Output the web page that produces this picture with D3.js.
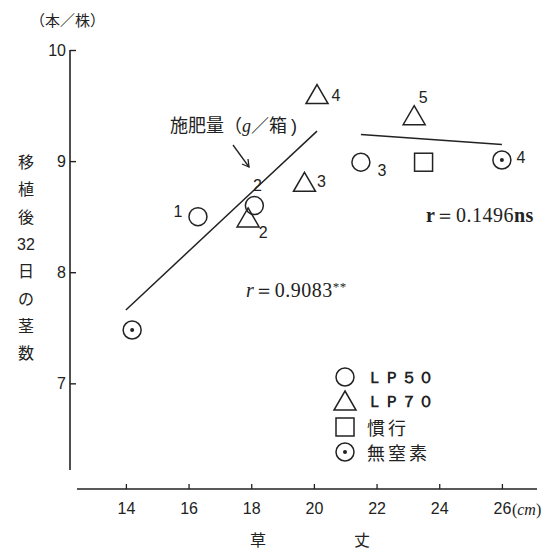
<!DOCTYPE html>
<html>
<head>
<meta charset="utf-8">
<script src="https://cdn.jsdelivr.net/npm/d3@7"></script>
<style>
  html, body { margin: 0; padding: 0; background: #fff; }
  svg { display: block; }
  .cjk { font-family: "Noto Sans CJK JP", sans-serif; }
  .num { font-family: "Liberation Sans", Arial, sans-serif; }
  .ser { font-family: "Liberation Serif", "DejaVu Serif", serif; }
</style>
</head>
<body>
<svg id="chart" width="552" height="554"></svg>
<script>
// ---- data ----
// LP50 (circle)
const lp50X = [16.3, 18.1, 21.5];
const lp50Y = [8.50, 8.60, 8.99];
const lp50Lbl = ["1", "2", "3"];
// LP70 (triangle)
const lp70X = [17.9, 19.7, 20.1, 23.2];
const lp70Y = [8.48, 8.80, 9.59, 9.40];
const lp70Lbl = ["2", "3", "4", "5"];
// 慣行 (square)
const kankoX = [23.5];
const kankoY = [8.99];
// 無窒素 (dotted circle)
const musoX = [14.2, 26.0];
const musoY = [7.48, 9.01];
const musoLbl = ["", "4"];
// regression lines (end points)
const reg1X = [14.0, 20.1];
const reg1Y = [7.66, 9.27];
const reg2X = [21.5, 26.0];
const reg2Y = [9.24, 9.15];
// axes
const xTicks = [14, 16, 18, 20, 22, 24, 26];
const yTicks = [7, 8, 9, 10];
const yTitle = ["移", "植", "後", "32", "日", "の", "茎", "数"];
const legendNames = ["ＬＰ５０", "ＬＰ７０", "慣行", "無窒素"];

// ---- layout ----
const svg = d3.select("#chart");
const ink = "#222";
const x = d3.scaleLinear().domain([12.44, 27.12]).range([77, 537]);
const y = d3.scaleLinear().domain([6.22, 10]).range([470, 50]);
const yAxisX = 70, xAxisY = 489;

// y axis
const gy = svg.append("g").attr("transform", `translate(${yAxisX},0)`)
  .call(d3.axisLeft(y).tickValues(yTicks).tickSize(-6).tickPadding(4).tickFormat(d3.format("d")));
gy.select(".domain").remove();
gy.selectAll(".tick line").attr("stroke", ink).attr("stroke-width", 1.4);
gy.selectAll(".tick text").attr("class", "num").attr("font-size", 16).attr("fill", ink);
gy.append("line").attr("x1", 0).attr("x2", 0)
  .attr("y1", y(10)).attr("y2", y(6.22)).attr("stroke", ink).attr("stroke-width", 1.6);

// x axis
const gx = svg.append("g").attr("transform", `translate(0,${xAxisY})`)
  .call(d3.axisBottom(x).tickValues(xTicks).tickSize(-5).tickPadding(14).tickFormat(d3.format("d")));
gx.select(".domain").remove();
gx.append("line").attr("x1", x.range()[0]).attr("x2", x.range()[1])
  .attr("stroke", ink).attr("stroke-width", 1.4);
gx.selectAll(".tick line").attr("stroke", ink).attr("stroke-width", 1.3);
gx.selectAll(".tick text").attr("class", "num").attr("font-size", 16).attr("fill", ink);
// unit after the last tick
const unit = svg.append("text").attr("class", "ser").attr("font-size", 16).attr("fill", ink)
  .attr("x", x(26) + 10).attr("y", xAxisY + 26);
unit.append("tspan").text("(");
unit.append("tspan").attr("font-style", "italic").text("cm");
unit.append("tspan").text(")");

// axis titles
svg.append("text").attr("class", "cjk").attr("font-size", 16).attr("fill", ink)
  .attr("x", 258).attr("y", 546).attr("text-anchor", "middle").text("草");
svg.append("text").attr("class", "cjk").attr("font-size", 16).attr("fill", ink)
  .attr("x", 362).attr("y", 546).attr("text-anchor", "middle").text("丈");
svg.append("text").attr("class", "cjk").attr("font-size", 15).attr("fill", ink)
  .attr("x", 30).attr("y", 26).text("（本／株）");
svg.selectAll("text.ytitle").data(yTitle).join("text")
  .attr("class", (d) => d === "32" ? "num" : "cjk")
  .attr("font-size", 16).attr("fill", ink)
  .attr("x", 26).attr("y", (d, i) => 168 + i * 27.3)
  .attr("text-anchor", "middle").text((d) => d);

// regression lines
function regLine(xs, ys) {
  svg.append("line")
    .attr("x1", x(xs[0])).attr("y1", y(ys[0]))
    .attr("x2", x(xs[1])).attr("y2", y(ys[1]))
    .attr("stroke", ink).attr("stroke-width", 1.5);
}
regLine(reg1X, reg1Y);
regLine(reg2X, reg2Y);

// symbol drawers
const sw = 1.5;
function circleAt(g, cx, cy) {
  g.append("circle").attr("cx", cx).attr("cy", cy).attr("r", 9)
    .attr("fill", "none").attr("stroke", ink).attr("stroke-width", sw);
}
function triAt(g, cx, cy) {
  g.append("path").attr("d", `M${cx},${cy - 11}L${cx + 11},${cy + 8}L${cx - 11},${cy + 8}Z`)
    .attr("fill", "none").attr("stroke", ink).attr("stroke-width", sw);
}
function sqAt(g, cx, cy) {
  g.append("rect").attr("x", cx - 9).attr("y", cy - 9).attr("width", 18).attr("height", 18)
    .attr("fill", "none").attr("stroke", ink).attr("stroke-width", sw);
}
function dotAt(g, cx, cy) {
  circleAt(g, cx, cy);
  g.append("circle").attr("cx", cx).attr("cy", cy).attr("r", 2).attr("fill", ink);
}

const pts = svg.append("g");
const lbl = (px, py, t) => pts.append("text").attr("class", "num").attr("font-size", 16)
  .attr("fill", ink).attr("x", px).attr("y", py).attr("text-anchor", "middle")
  .attr("dominant-baseline", "central").text(t);

// label offsets (px) relative to each mark
const lp50Off = [[-20, -5], [3, -20], [21, 8]];
const lp70Off = [[15, 14], [17, -2], [19, 0], [9, -19]];
const musoOff = [[0, 0], [19, -3]];

lp50X.forEach((v, i) => {
  const cx = x(v), cy = y(lp50Y[i]);
  circleAt(pts, cx, cy);
  lbl(cx + lp50Off[i][0], cy + lp50Off[i][1], lp50Lbl[i]);
});
lp70X.forEach((v, i) => {
  const cx = x(v), cy = y(lp70Y[i]);
  triAt(pts, cx, cy);
  lbl(cx + lp70Off[i][0], cy + lp70Off[i][1], lp70Lbl[i]);
});
kankoX.forEach((v, i) => sqAt(pts, x(v), y(kankoY[i])));
musoX.forEach((v, i) => {
  const cx = x(v), cy = y(musoY[i]);
  dotAt(pts, cx, cy);
  if (musoLbl[i]) lbl(cx + musoOff[i][0], cy + musoOff[i][1], musoLbl[i]);
});

// annotation: 施肥量（g／箱） with arrow
const ann = svg.append("text").attr("class", "cjk").attr("font-size", 18).attr("fill", ink)
  .attr("x", 170).attr("y", 132);
ann.append("tspan").text("施肥量（");
ann.append("tspan").attr("class", "ser").attr("font-style", "italic").text("g");
ann.append("tspan").text("／箱");
ann.append("tspan").attr("class", "num").attr("dx", 4).text(")");
svg.append("line").attr("x1", 233).attr("y1", 145).attr("x2", 249).attr("y2", 167)
  .attr("stroke", ink).attr("stroke-width", 1.3);
svg.append("path").attr("d", "M242,164L249,167L248,159")
  .attr("fill", "none").attr("stroke", ink).attr("stroke-width", 1.3);

// correlation texts
svg.append("text").attr("class", "ser").attr("font-size", 20).attr("fill", ink)
  .attr("x", 246).attr("y", 297).attr("letter-spacing", 0.5)
  .html('<tspan font-style="italic">r</tspan>＝0.9083<tspan font-size="13" dy="-6">**</tspan>');
svg.append("text").attr("class", "ser").attr("font-size", 20).attr("fill", ink)
  .attr("x", 426).attr("y", 222).attr("letter-spacing", 0.5)
  .html('<tspan font-weight="bold">r</tspan>＝0.1496<tspan font-weight="bold">ns</tspan>');

// legend
const leg = svg.append("g");
const legY = [377, 401, 427, 452];
const legDraw = [circleAt, triAt, sqAt, dotAt];
legendNames.forEach((name, i) => {
  legDraw[i](leg, 345, legY[i] + (i === 1 ? 1 : 0));
  leg.append("text")
    .attr("class", i < 2 ? "ser" : "cjk")
    .attr("font-size", i < 2 ? 16 : 18)
    .attr("font-weight", i < 2 ? "bold" : "normal")
    .attr("letter-spacing", i < 2 ? 1 : 3)
    .attr("fill", ink)
    .attr("x", 367).attr("y", legY[i]).attr("dominant-baseline", "central")
    .text(name);
});
</script>
</body>
</html>
